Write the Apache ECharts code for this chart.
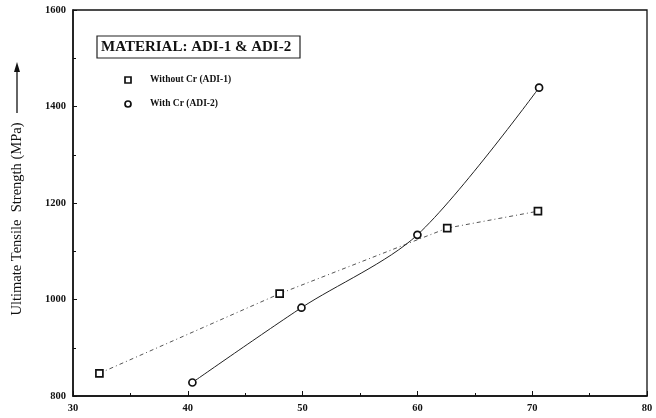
<!DOCTYPE html>
<html>
<head>
<meta charset="utf-8">
<script src="https://cdn.jsdelivr.net/npm/echarts@6/dist/echarts.min.js"></script>
<style>html,body{margin:0;padding:0;background:#fff;}#c{width:656px;height:418px;}</style>
</head>
<body>
<div id="c"></div>
<script>
// Data
const withoutCr = [[32.3, 847], [48.0, 1012], [62.6, 1148], [70.5, 1183]];
const withCr = [[40.4, 828], [49.9, 983], [60.0, 1134], [70.6, 1439]];
const xTicks = [30, 40, 50, 60, 70, 80];
const yTicks = [800, 1000, 1200, 1400, 1600];
const seriesNames = ['Without Cr (ADI-1)', 'With Cr (ADI-2)'];
const titleText = 'MATERIAL: ADI-1 & ADI-2';
const yAxisTitle = 'Ultimate Tensile  Strength (MPa)';

const serif = '"Liberation Serif", "DejaVu Serif", serif';
const chart = echarts.init(document.getElementById('c'), null, {renderer: 'canvas'});
chart.setOption({
  animation: false,
  backgroundColor: '#fff',
  grid: {left: 73, right: 9, top: 10, bottom: 22, show: true, borderColor: '#111', borderWidth: 1.3},
  xAxis: {
    type: 'value', min: xTicks[0], max: xTicks[xTicks.length - 1], interval: 10,
    axisLine: {lineStyle: {color: '#111', width: 1.5}},
    axisTick: {inside: true, length: 5, lineStyle: {color: '#111'}},
    minorTick: {show: true, splitNumber: 2, length: 3, lineStyle: {color: '#111'}},
    splitLine: {show: false},
    axisLabel: {color: '#111', fontFamily: serif, fontWeight: 'bold', fontSize: 10.5, margin: 7,
      formatter: v => String(v)}
  },
  yAxis: {
    type: 'value', min: yTicks[0], max: yTicks[yTicks.length - 1], interval: 200,
    axisLine: {lineStyle: {color: '#111', width: 1.5}},
    axisTick: {inside: true, length: 4, lineStyle: {color: '#111'}},
    minorTick: {show: true, splitNumber: 2, length: 3, lineStyle: {color: '#111'}},
    splitLine: {show: false},
    axisLabel: {color: '#111', fontFamily: serif, fontWeight: 'bold', fontSize: 10.5, margin: 7,
      formatter: v => String(v)}
  },
  series: [
    {
      name: seriesNames[0], type: 'line', data: withoutCr,
      symbol: 'rect', symbolSize: 7,
      lineStyle: {color: '#555', width: 1, type: [4, 3, 1, 3]},
      itemStyle: {color: '#fff', borderColor: '#111', borderWidth: 1.7}
    },
    {
      name: seriesNames[1], type: 'line', data: withCr, smooth: 0.3,
      symbol: 'circle', symbolSize: 7,
      lineStyle: {color: '#222', width: 1},
      itemStyle: {color: '#fff', borderColor: '#111', borderWidth: 1.7}
    }
  ],
  graphic: [
    {type: 'rect', shape: {x: 97, y: 36, width: 203, height: 22},
     style: {fill: '#fff', stroke: '#222', lineWidth: 1.2}},
    {type: 'text', x: 101, y: 47,
     style: {text: titleText, font: 'bold 15px ' + serif, fill: '#111', textVerticalAlign: 'middle'}},
    {type: 'rect', shape: {x: 125, y: 77, width: 6, height: 6},
     style: {fill: '#fff', stroke: '#111', lineWidth: 1.7}},
    {type: 'text', x: 150, y: 80,
     style: {text: seriesNames[0], font: 'bold 9.5px ' + serif, fill: '#111', textVerticalAlign: 'middle'}},
    {type: 'circle', shape: {cx: 128, cy: 104, r: 3},
     style: {fill: '#fff', stroke: '#111', lineWidth: 1.7}},
    {type: 'text', x: 150, y: 104,
     style: {text: seriesNames[1], font: 'bold 9.5px ' + serif, fill: '#111', textVerticalAlign: 'middle'}},
    {type: 'text', x: 17, y: 219, rotation: Math.PI / 2,
     style: {text: yAxisTitle, font: '14.5px ' + serif, fill: '#111', textAlign: 'center', textVerticalAlign: 'middle'}},
    {type: 'line', shape: {x1: 17, y1: 113, x2: 17, y2: 70}, style: {stroke: '#111', lineWidth: 1.3}},
    {type: 'polygon', shape: {points: [[17, 62], [14, 72], [20, 72]]}, style: {fill: '#111'}}
  ]
});
</script>
</body>
</html>
